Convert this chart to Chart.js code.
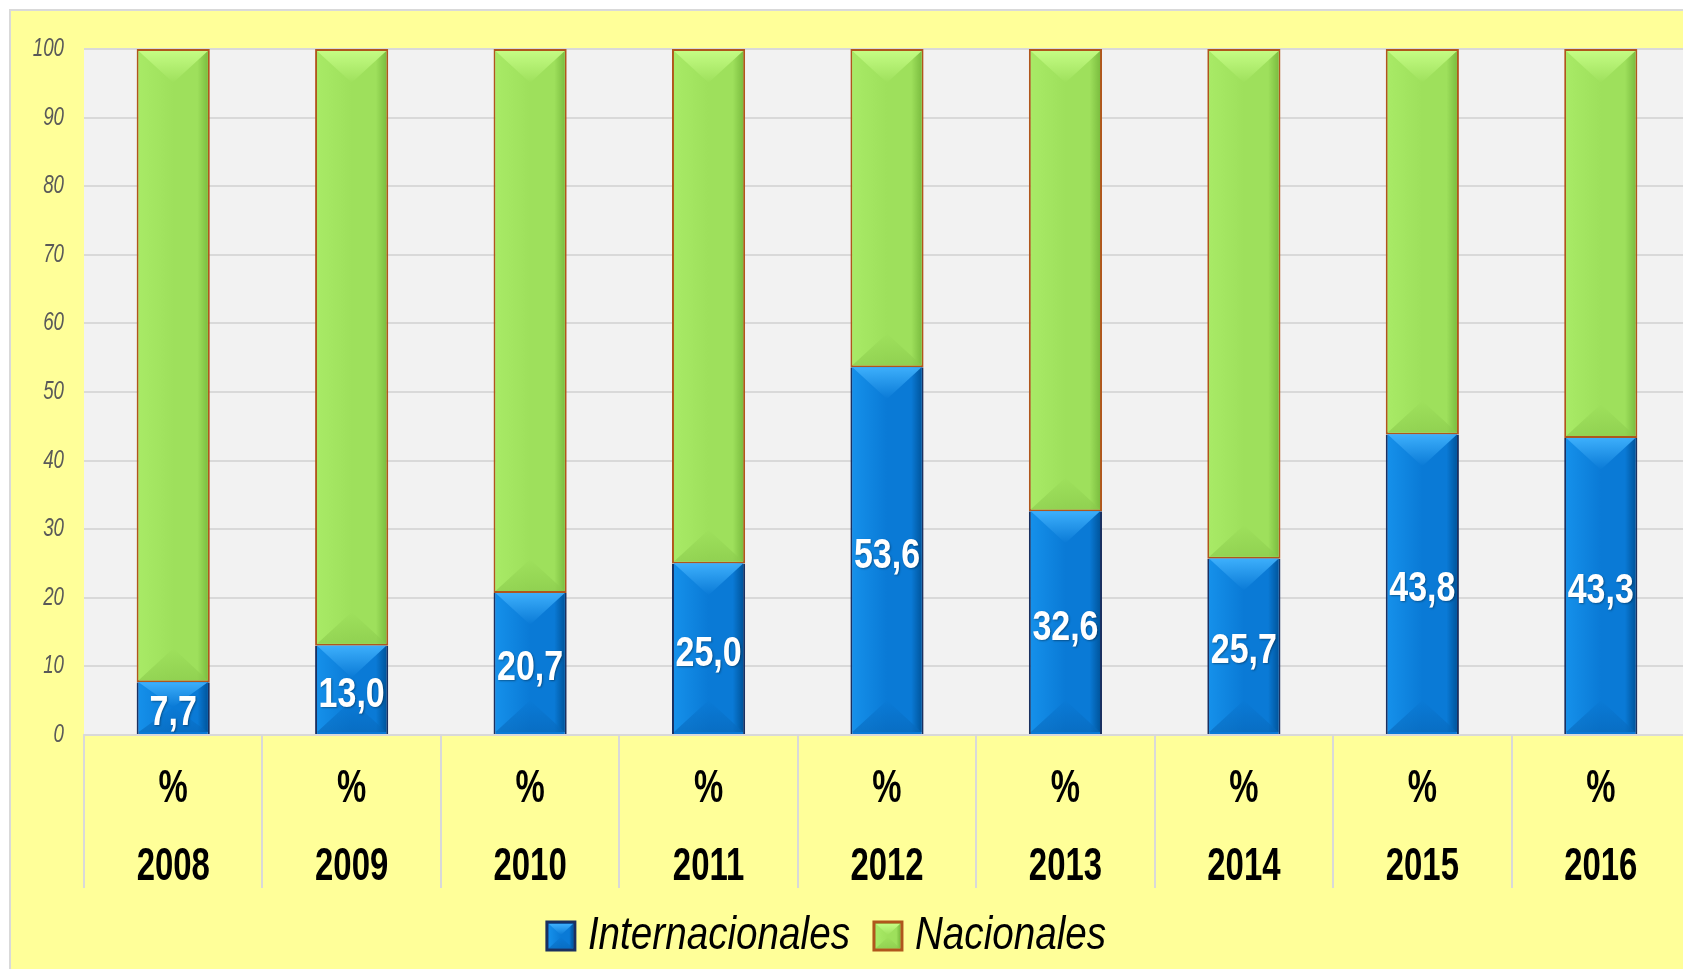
<!DOCTYPE html>
<html><head><meta charset="utf-8">
<script src="https://cdn.jsdelivr.net/npm/chart.js@4/dist/chart.umd.min.js"></script>
<style>
html,body{margin:0;padding:0;background:#fff;overflow:hidden;width:1683px;height:969px;}
#frame{position:absolute;left:9px;top:9px;width:1700px;height:1000px;background:#FFFF99;border-left:2px solid #D9D9D9;border-top:2px solid #D9D9D9;}
#wrap{position:absolute;left:-27px;top:0;width:1717px;height:969px;}
</style></head><body>
<div id="frame"></div>
<div id="wrap"><canvas id="c" width="1717" height="969"></canvas></div>
<script>
const years = ['2008','2009','2010','2011','2012','2013','2014','2015','2016'];
const tickPrefix = '%';
const internacionales = [7.7, 13.0, 20.7, 25.0, 53.6, 32.6, 25.7, 43.8, 43.3];
const nacionales = [92.3, 87.0, 79.3, 75.0, 46.4, 67.4, 74.3, 56.2, 56.7];
const yMin = 0, yMax = 100, yStep = 10;
const seriesNames = ['Internacionales', 'Nacionales'];

// Condensed text rendering: a family tag "nxNN" (NN = horizontal scale in %) and optional "dNN" (left shift)
(function () {
  const proto = CanvasRenderingContext2D.prototype;
  const origFill = proto.fillText, origMeasure = proto.measureText;
  function tag(ctx) {
    const m = /nx(\d+)(?:d(\d+))?/.exec(ctx.font);
    return m ? {s: (+m[1]) / 100, d: m[2] ? +m[2] : 0} : null;
  }
  proto.fillText = function (t, x, y, maxW) {
    const g = tag(this);
    if (!g) return origFill.apply(this, arguments);
    this.save();
    this.translate(x - g.d, y);
    this.scale(g.s, 1);
    origFill.call(this, t, 0, 0);
    this.restore();
  };
  proto.measureText = function (t) {
    const m = origMeasure.call(this, t);
    const g = tag(this);
    if (!g) return m;
    return {
      width: m.width * g.s,
      actualBoundingBoxAscent: m.actualBoundingBoxAscent,
      actualBoundingBoxDescent: m.actualBoundingBoxDescent,
      actualBoundingBoxLeft: m.actualBoundingBoxLeft * g.s,
      actualBoundingBoxRight: m.actualBoundingBoxRight * g.s,
      fontBoundingBoxAscent: m.fontBoundingBoxAscent,
      fontBoundingBoxDescent: m.fontBoundingBoxDescent
    };
  };
})();

const FAM = (tag) => tag + ", 'Liberation Sans', Arial, sans-serif";

const plotBg = {
  id: 'plotBg',
  beforeDraw(chart) {
    const {ctx, chartArea: a} = chart;
    ctx.save();
    ctx.fillStyle = '#F2F2F2';
    ctx.fillRect(a.left, a.top, a.right - a.left, a.bottom - a.top);
    ctx.restore();
  }
};

const shades = [
  {left:'#1590EA', mid:'#0A7AD6', right:'#00569E', top:'#42B4FF', bottom:'#0766B8'},
  {left:'#A8EA66', mid:'#9EE05C', right:'#7CBE40', top:'#C8FF88', bottom:'#88C84A'}
];

function bevelRect(ctx, s, l, t, r, b) {
  const w = r - l, cx = (l + r) / 2;
  const g = ctx.createLinearGradient(l, 0, r, 0);
  g.addColorStop(0, s.left); g.addColorStop(0.5, s.mid); g.addColorStop(0.85, s.mid); g.addColorStop(1, s.right);
  ctx.fillStyle = g;
  ctx.fillRect(l, t, w, b - t);
  const d = Math.min(w/2 * 0.92, (b - t)/2);
  const gt = ctx.createLinearGradient(0, t, 0, t + d);
  gt.addColorStop(0, s.top); gt.addColorStop(1, s.mid);
  ctx.globalAlpha = 0.9;
  ctx.fillStyle = gt;
  ctx.beginPath(); ctx.moveTo(l, t); ctx.lineTo(r, t); ctx.lineTo(cx, t + d); ctx.closePath(); ctx.fill();
  const gb = ctx.createLinearGradient(0, b, 0, b - d);
  gb.addColorStop(0, s.bottom); gb.addColorStop(1, s.mid);
  ctx.globalAlpha = 0.6;
  ctx.fillStyle = gb;
  ctx.beginPath(); ctx.moveTo(l, b); ctx.lineTo(r, b); ctx.lineTo(cx, b - d); ctx.closePath(); ctx.fill();
  ctx.globalAlpha = 1;
}

const bevel = {
  id: 'bevel',
  afterDatasetDraw(chart, args) {
    const {ctx} = chart;
    const s = shades[args.index];
    const inset = 2;
    ctx.save();
    args.meta.data.forEach(el => {
      const p = el.getProps(['x','y','base','width'], true);
      const l = p.x - p.width/2 + inset, r = p.x + p.width/2 - inset;
      const t = Math.min(p.y, p.base) + (args.index === 1 ? inset : 0);
      const b = Math.max(p.y, p.base) - inset;
      if (b - t < 2) return;
      bevelRect(ctx, s, l, t, r, b);
    });
    ctx.restore();
  },
  afterDraw(chart) {
    // shade the legend boxes like the bars
    const lg = chart.legend;
    if (!lg || !lg.legendHitBoxes) return;
    const {ctx} = chart;
    const bw = lg.options.labels.boxWidth, bh = lg.options.labels.boxHeight;
    const itemH = Math.max(lg.options.labels.font.size, bh);
    ctx.save();
    lg.legendHitBoxes.forEach((hb, i) => {
      const top = hb.top + (itemH - bh) / 2;
      bevelRect(ctx, shades[i], hb.left + 2, top + 2, hb.left + bw - 2, top + bh - 2);
    });
    ctx.restore();
  }
};

const valueLabels = {
  id: 'valueLabels',
  afterDatasetsDraw(chart) {
    const {ctx} = chart;
    const meta = chart.getDatasetMeta(0);
    const data = chart.data.datasets[0].data;
    ctx.save();
    ctx.font = 'bold 43px ' + FAM('nx79');
    ctx.fillStyle = '#FFFFFF';
    ctx.textAlign = 'center';
    ctx.textBaseline = 'middle';
    ctx.shadowColor = 'rgba(0,0,0,0.35)';
    ctx.shadowBlur = 2; ctx.shadowOffsetX = 1; ctx.shadowOffsetY = 1;
    meta.data.forEach((el, i) => {
      const p = el.getProps(['x','y','base'], true);
      ctx.fillText(data[i].toFixed(1).replace('.', ','), p.x, (p.y + p.base)/2 + 5);
    });
    ctx.restore();
  }
};

const legendStroke = ['#1A3060', '#B0561C'];

new Chart(document.getElementById('c'), {
  type: 'bar',
  data: {
    labels: years.map(y => [tickPrefix, y]),
    datasets: [
      {label: seriesNames[0], data: internacionales, backgroundColor: '#0A7AD6', borderColor: '#1A3060',
       borderWidth: {top:0, left:2, right:2, bottom:0}, borderSkipped: false},
      {label: seriesNames[1], data: nacionales, backgroundColor: '#9EE05C', borderColor: '#B0561C',
       borderWidth: 2, borderSkipped: false}
    ]
  },
  options: {
    responsive: false,
    animation: false,
    devicePixelRatio: 1,
    layout: {padding: {top: 49, left: 0, right: 0, bottom: 0}},
    datasets: {bar: {categoryPercentage: 1, barPercentage: 0.41}},
    scales: {
      x: {
        stacked: true,
        offset: true,
        grid: {display: true, drawOnChartArea: false, color: '#D9D9D9', lineWidth: 2, tickLength: 153, offset: true},
        border: {display: true, color: '#D9D9D9', width: 2},
        ticks: {autoSkip: false, maxRotation: 0, minRotation: 0, color: '#000000', padding: -138,
                font: {family: FAM('nx70'), size: 47, weight: 'bold', lineHeight: 1.66}},
        afterFit(scale) { scale.height = 164; }
      },
      y: {
        stacked: true,
        min: yMin, max: yMax,
        ticks: {stepSize: yStep, color: '#595959', padding: 20,
                font: {family: FAM('nx75'), size: 25, style: 'italic'}},
        grid: {color: '#D9D9D9', lineWidth: 2, drawTicks: false},
        border: {display: false},
        afterFit(scale) { scale.width = 111; }
      }
    },
    plugins: {
      legend: {
        position: 'bottom',
        labels: {color: '#000000', boxWidth: 28, boxHeight: 28, padding: 14,
                 font: {family: FAM('nx84d10'), size: 46, style: 'italic'},
                 generateLabels(chart) {
                   return chart.data.datasets.map((ds, i) => ({
                     text: ds.label, fillStyle: ds.backgroundColor, strokeStyle: legendStroke[i],
                     lineWidth: 3, hidden: false, datasetIndex: i, fontColor: '#000000'
                   }));
                 }}
      },
      tooltip: {enabled: false},
      title: {display: false}
    }
  },
  plugins: [plotBg, bevel, valueLabels]
});
</script>
</body></html>
